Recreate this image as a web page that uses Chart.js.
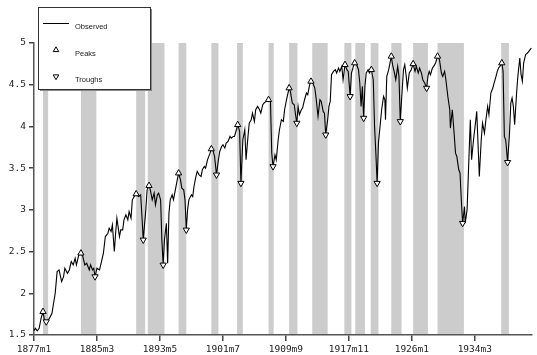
<!DOCTYPE html>
<html>
<head>
<meta charset="utf-8">
<script src="https://cdn.jsdelivr.net/npm/chart.js"></script>
<style>
  body { margin: 0; background: #fff; }
  #wrap { width: 537px; height: 355px; }
</style>
</head>
<body>
<div id="wrap"><canvas id="chart" width="537" height="355"></canvas></div>
<script>
// months counted from 1877m1 (= 0)
const tickMonths = [0, 98, 196, 294, 392, 490, 588, 686];
const tickLabels = ['1877m1', '1885m3', '1893m5', '1901m7', '1909m9', '1917m11', '1926m1', '1934m3'];
const yTicks = [1.5, 2, 2.5, 3, 3.5, 4, 4.5, 5];

const obsMonths = [0, 2, 5, 8, 11, 14, 16, 19, 24, 28, 30, 33, 36, 39, 43, 46, 48, 52, 55, 58, 61, 64, 66, 70, 73, 76, 79, 82, 86, 88,
  91, 93, 95, 98, 102, 105, 108, 111, 115, 117, 120, 122, 125, 127, 129, 133, 135, 138, 140, 143, 146, 148, 151, 153, 156, 159, 163, 166, 168, 170,
  174, 176, 179, 181, 184, 187, 189, 192, 194, 197, 199, 201, 203, 206, 208, 210, 212, 215, 217, 220, 222, 225, 228, 230, 233, 235, 237, 239, 241, 245,
  247, 249, 252, 254, 257, 260, 262, 265, 267, 270, 274, 276, 279, 281, 284, 287, 289, 292, 294, 297, 299, 302, 305, 307, 310, 312, 315, 317, 320, 322,
  325, 328, 330, 333, 335, 338, 340, 343, 345, 348, 351, 353, 356, 358, 361, 365, 368, 370, 372, 375, 377, 380, 382, 385, 388, 390, 393, 397, 399, 402,
  405, 407, 409, 411, 413, 416, 418, 421, 424, 426, 429, 431, 434, 437, 439, 442, 445, 447, 450, 452, 454, 457, 459, 461, 463, 466, 469, 471, 474, 476,
  479, 481, 484, 487, 489, 492, 494, 497, 499, 502, 505, 507, 509, 511, 513, 515, 517, 520, 522, 525, 528, 530, 532, 534, 536, 539, 541, 544, 546, 547,
  549, 552, 556, 558, 561, 563, 566, 568, 570, 572, 575, 577, 579, 581, 584, 587, 590, 593, 595, 598, 600, 603, 605, 608, 611, 613, 615, 617, 620, 622,
  625, 628, 631, 634, 636, 639, 641, 644, 647, 648, 651, 653, 656, 658, 661, 663, 665, 667, 670, 671, 674, 676, 679, 681, 684, 687, 689, 692, 693, 696,
  698, 701, 703, 706, 708, 711, 714, 716, 719, 721, 723, 725, 728, 730, 732, 734, 735, 737, 740, 742, 744, 746, 748, 751, 753, 756, 758, 760, 762, 765,
  768, 770, 772, 774];
const obsValues = [1.55, 1.58, 1.55, 1.58, 1.70, 1.78, 1.69, 1.66, 1.70, 1.76, 1.86, 2.00, 2.26, 2.28, 2.14, 2.20, 2.30, 2.24, 2.28, 2.38, 2.34, 2.42, 2.34, 2.47, 2.48, 2.44, 2.34, 2.36, 2.28, 2.34,
  2.28, 2.30, 2.20, 2.30, 2.28, 2.38, 2.48, 2.68, 2.72, 2.78, 2.74, 2.82, 2.50, 2.72, 2.90, 2.68, 2.76, 2.76, 2.88, 2.94, 2.88, 2.98, 2.90, 3.12, 3.16, 3.19, 3.16, 3.18, 2.92, 2.64,
  3.00, 3.24, 3.29, 3.24, 3.12, 3.20, 3.06, 3.18, 3.20, 3.12, 2.64, 2.34, 2.64, 2.84, 2.36, 2.96, 3.12, 3.18, 3.12, 3.24, 3.32, 3.44, 3.36, 3.26, 3.24, 3.12, 2.76, 3.00, 3.12, 3.18,
  3.16, 3.28, 3.40, 3.46, 3.42, 3.40, 3.48, 3.52, 3.50, 3.60, 3.68, 3.73, 3.70, 3.64, 3.42, 3.60, 3.70, 3.76, 3.78, 3.74, 3.80, 3.82, 3.88, 3.86, 3.88, 3.88, 3.96, 4.02, 3.94, 3.32,
  3.84, 3.96, 3.60, 3.88, 4.04, 4.08, 4.16, 4.06, 4.20, 4.24, 4.20, 4.16, 4.26, 4.28, 4.30, 4.32, 4.30, 3.68, 3.52, 3.66, 3.60, 3.84, 3.96, 4.08, 4.06, 4.20, 4.32, 4.46, 4.42, 4.28,
  4.26, 4.14, 4.04, 4.24, 4.14, 4.20, 4.22, 4.32, 4.40, 4.38, 4.50, 4.54, 4.52, 4.46, 4.34, 4.12, 4.32, 4.30, 4.18, 4.16, 3.90, 4.08, 4.24, 4.30, 4.62, 4.66, 4.68, 4.64, 4.70, 4.66,
  4.72, 4.56, 4.74, 4.68, 4.66, 4.36, 4.64, 4.72, 4.76, 4.74, 4.68, 4.52, 4.24, 4.48, 4.10, 4.48, 4.64, 4.68, 4.64, 4.68, 4.56, 4.00, 3.68, 3.32, 3.80, 4.04, 4.20, 4.36, 4.32, 4.08,
  4.60, 4.68, 4.84, 4.74, 4.64, 4.56, 4.72, 4.60, 4.06, 4.32, 4.68, 4.74, 4.62, 4.46, 4.64, 4.68, 4.75, 4.66, 4.72, 4.64, 4.70, 4.64, 4.56, 4.52, 4.46, 4.60, 4.66, 4.62, 4.70, 4.72,
  4.76, 4.84, 4.80, 4.64, 4.60, 4.66, 4.56, 4.36, 4.20, 3.98, 4.20, 4.00, 3.68, 3.64, 3.48, 3.44, 3.12, 2.84, 3.04, 2.84, 3.00, 3.44, 4.08, 3.60, 3.84, 4.04, 4.18, 3.60, 3.40, 3.84,
  4.04, 3.92, 4.06, 4.24, 4.14, 4.40, 4.46, 4.52, 4.60, 4.66, 4.70, 4.72, 4.76, 4.66, 3.88, 3.84, 3.76, 3.57, 3.92, 4.28, 4.34, 4.24, 4.02, 4.40, 4.60, 4.82, 4.62, 4.54, 4.76, 4.86,
  4.88, 4.90, 4.92, 4.94];

const peakMonths = [14, 73, 159, 179, 225, 276, 317, 365, 397, 431, 484, 499, 525, 556, 590, 628, 728];
const peakValues = [1.78, 2.48, 3.19, 3.29, 3.44, 3.73, 4.02, 4.32, 4.46, 4.54, 4.74, 4.76, 4.68, 4.84, 4.75, 4.84, 4.76];
const troughMonths = [19, 95, 170, 201, 237, 284, 322, 372, 409, 454, 492, 513, 534, 570, 611, 667, 737];
const troughValues = [1.66, 2.20, 2.64, 2.34, 2.76, 3.42, 3.32, 3.52, 4.04, 3.90, 4.36, 4.10, 3.32, 4.06, 4.46, 2.84, 3.57];

// shaded recession periods
const bandStarts = [14, 73, 159, 177, 225, 276, 316, 365, 397, 433, 483, 500, 524, 556, 590, 628, 727];
const bandEnds = [22, 97, 173, 203, 237, 287, 325, 373, 410, 457, 494, 515, 536, 572, 613, 669, 739];

const toPoints = (xs, ys) => xs.map((x, i) => ({ x: x, y: ys[i] }));

// grey bands behind everything
const bandsPlugin = {
  id: 'bands',
  beforeDraw(chart) {
    const { ctx, chartArea, scales } = chart;
    ctx.save();
    ctx.fillStyle = '#cccccc';
    bandStarts.forEach((s, i) => {
      const x0 = scales.x.getPixelForValue(s);
      const x1 = scales.x.getPixelForValue(bandEnds[i]);
      ctx.fillRect(x0, chartArea.top, x1 - x0, chartArea.bottom - chartArea.top - 1);
    });
    ctx.restore();
  }
};

function triangle(ctx, x, y, r, down) {
  const s = down ? -1 : 1;
  ctx.beginPath();
  ctx.moveTo(x, y - s * r);
  ctx.lineTo(x + r * 0.866, y + s * r * 0.5);
  ctx.lineTo(x - r * 0.866, y + s * r * 0.5);
  ctx.closePath();
  ctx.fill();
  ctx.stroke();
}

// boxed legend in the top left corner
const legendPlugin = {
  id: 'boxLegend',
  afterDraw(chart) {
    const ctx = chart.ctx;
    const ds = chart.data.datasets;
    ctx.save();
    ctx.fillStyle = '#888';
    ctx.fillRect(40, 9, 112, 82);
    ctx.fillStyle = '#fff';
    ctx.strokeStyle = '#333';
    ctx.lineWidth = 1;
    ctx.fillRect(38.5, 7.5, 112, 82);
    ctx.strokeRect(38.5, 7.5, 112, 82);

    ctx.strokeStyle = '#000';
    ctx.beginPath();
    ctx.moveTo(43, 23.5);
    ctx.lineTo(69, 23.5);
    ctx.stroke();
    ctx.fillStyle = '#fff';
    triangle(ctx, 56, 50, 3.2, false);
    triangle(ctx, 56, 76.5, 3.2, true);

    ctx.fillStyle = '#222';
    ctx.font = '7.5px "Liberation Sans", Arial, sans-serif';
    ctx.textBaseline = 'middle';
    ctx.fillText(ds[2].label, 75, 26.5);
    ctx.fillText(ds[0].label, 75, 53.5);
    ctx.fillText(ds[1].label, 75, 80);
    ctx.restore();
  }
};

const monoFont = { family: '"DejaVu Sans Mono", monospace', size: 9.5 };

new Chart(document.getElementById('chart'), {
  type: 'line',
  data: {
    datasets: [{
      type: 'scatter',
      label: 'Peaks',
      data: toPoints(peakMonths, peakValues),
      pointStyle: 'triangle',
      pointRadius: 3.6,
      pointBackgroundColor: '#fff',
      pointBorderColor: '#000',
      pointBorderWidth: 1,
      order: 0
    }, {
      type: 'scatter',
      label: 'Troughs',
      data: toPoints(troughMonths, troughValues),
      pointStyle: 'triangle',
      rotation: 180,
      pointRadius: 3.6,
      pointBackgroundColor: '#fff',
      pointBorderColor: '#000',
      pointBorderWidth: 1,
      order: 0
    }, {
      label: 'Observed',
      data: toPoints(obsMonths, obsValues),
      borderColor: '#000',
      borderWidth: 1.1,
      pointRadius: 0,
      tension: 0,
      fill: false,
      order: 1
    }]
  },
  options: {
    responsive: false,
    animation: false,
    devicePixelRatio: 1,
    layout: { padding: { top: 43, right: 0, left: 0, bottom: 0 } },
    plugins: { legend: { display: false }, tooltip: { enabled: false } },
    scales: {
      x: {
        type: 'linear',
        min: 0,
        max: 775,
        afterBuildTicks: s => { s.ticks = tickMonths.map(v => ({ value: v })); },
        afterFit: s => { s.height = 20; },
        grid: { drawOnChartArea: false, drawTicks: true, tickLength: 6, color: '#444', lineWidth: 1.5 },
        border: { color: '#555', width: 1.5 },
        ticks: {
          autoSkip: false,
          maxRotation: 0,
          padding: 3,
          color: '#222',
          font: monoFont,
          callback: v => tickLabels[tickMonths.indexOf(v)]
        }
      },
      y: {
        min: 1.5,
        max: 5,
        afterBuildTicks: s => { s.ticks = yTicks.map(v => ({ value: v })); },
        afterFit: s => { s.width = 34; },
        grid: { drawOnChartArea: false, drawTicks: true, tickLength: 5, color: '#444', lineWidth: 1.5 },
        border: { color: '#555', width: 1.5 },
        ticks: { padding: 3, color: '#222', font: monoFont, callback: v => String(v) }
      }
    }
  },
  plugins: [bandsPlugin, legendPlugin]
});
</script>
</body>
</html>
